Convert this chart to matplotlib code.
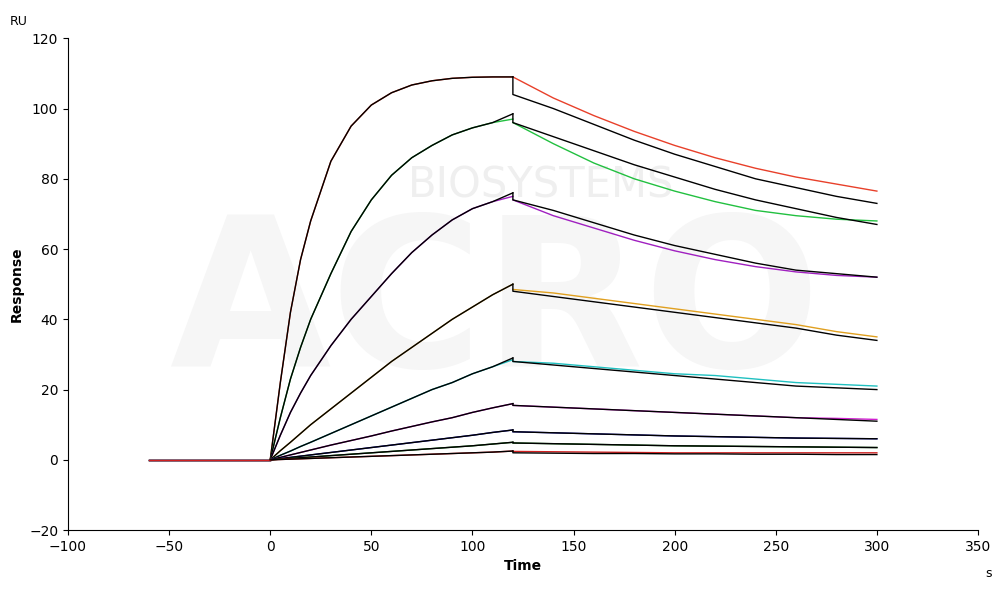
import matplotlib
matplotlib.use("Agg")
import matplotlib.pyplot as plt

t_base = [-60, 0]
t_assoc = [0, 5, 10, 15, 20, 30, 40, 50, 60, 70, 80, 90, 100, 110, 120]
t_diss = [120, 140, 160, 180, 200, 220, 240, 260, 280, 300]

colors = ["#e8402a", "#22c040", "#a020c0", "#e0a020", "#20c0c0", "#d020d0", "#1010b0", "#107010", "#d02020"]

assoc = [
    [0, 22, 42, 57, 68, 85, 95, 101, 104.5, 106.7, 107.9, 108.6, 108.9, 109, 109],
    [0, 12, 23, 32, 40, 53, 65, 74, 81, 86, 89.5, 92.5, 94.5, 96, 97],
    [0, 7, 13.5, 19, 24, 32.5, 40, 46.5, 53, 59, 64, 68.3, 71.5, 73.5, 75],
    [0, 2.6, 5, 7.5, 10, 14.5, 19, 23.5, 28, 32, 36, 40, 43.5, 47, 50],
    [0, 1.3, 2.5, 3.8, 5, 7.5, 10, 12.5, 15, 17.5, 20, 22, 24.5, 26.5, 28.5],
    [0, .7, 1.4, 2.1, 2.8, 4.2, 5.5, 6.8, 8.2, 9.5, 10.8, 12, 13.5, 14.8, 16],
    [0, .35, .7, 1.05, 1.4, 2.1, 2.8, 3.5, 4.2, 4.9, 5.6, 6.3, 7, 7.8, 8.5],
    [0, .2, .4, .6, .8, 1.2, 1.6, 2, 2.4, 2.8, 3.2, 3.6, 4, 4.5, 5],
    [0, .1, .2, .3, .4, .6, .8, 1, 1.2, 1.4, 1.6, 1.8, 2, 2.2, 2.5],
]
fit_assoc_end = [109, 98.5, 76, 50, 29, 16, 8.5, 5, 2.5]

diss = [
    [109, 103, 98, 93.5, 89.5, 86, 83, 80.5, 78.5, 76.5],
    [96, 90, 84.5, 80, 76.5, 73.5, 71, 69.5, 68.5, 68],
    [74, 69.5, 66, 62.5, 59.5, 57, 55, 53.5, 52.5, 52],
    [48.5, 47.5, 46, 44.5, 43, 41.5, 40, 38.5, 36.5, 35],
    [28, 27.5, 26.5, 25.5, 24.5, 24, 23, 22, 21.5, 21],
    [15.5, 15, 14.5, 14, 13.5, 13, 12.5, 12, 11.8, 11.5],
    [8, 7.7, 7.4, 7.1, 6.8, 6.6, 6.4, 6.2, 6.1, 6],
    [4.8, 4.6, 4.4, 4.2, 4, 3.9, 3.8, 3.7, 3.6, 3.5],
    [2.4, 2.3, 2.2, 2.1, 2, 2, 2, 2, 2, 2],
]
fit_diss = [
    [104, 100, 95.5, 91, 87, 83.5, 80, 77.5, 75, 73],
    [96, 92, 88, 84, 80.5, 77, 74, 71.5, 69, 67],
    [74, 71, 67.5, 64, 61, 58.5, 56, 54, 53, 52],
    [48, 46.5, 45, 43.5, 42, 40.5, 39, 37.5, 35.5, 34],
    [28, 27, 26, 25, 24, 23, 22, 21, 20.5, 20],
    [15.5, 15, 14.5, 14, 13.5, 13, 12.5, 12, 11.5, 11],
    [8, 7.7, 7.4, 7.1, 6.8, 6.6, 6.4, 6.2, 6.1, 6],
    [4.8, 4.6, 4.4, 4.2, 4, 3.9, 3.8, 3.7, 3.6, 3.5],
    [2, 1.9, 1.8, 1.8, 1.7, 1.7, 1.6, 1.6, 1.5, 1.5],
]

fig = plt.figure(figsize=(10, 5.89), dpi=100)
ax = fig.add_axes([0.068, 0.10, 0.91, 0.835])

ax.text(0.47, 0.45, "ACRO", transform=ax.transAxes, fontsize=150, color="#f6f6f6",
        ha="center", va="center", fontweight="bold", zorder=0)
ax.text(0.52, 0.70, "BIOSYSTEMS", transform=ax.transAxes, fontsize=30, color="#efefef",
        ha="center", va="center", zorder=0)

for i, c in enumerate(colors):
    ax.plot(t_base, [0, 0], color=c, lw=1)
    ax.plot(t_assoc, assoc[i], color=c, lw=1)
    ax.plot(t_diss, diss[i], color=c, lw=1)
    fa = assoc[i][:-1] + [fit_assoc_end[i]]
    ax.plot(t_assoc, fa, color="black", lw=1)
    ax.plot([120] + t_diss, [fit_assoc_end[i]] + fit_diss[i], color="black", lw=1)

ax.set_xlim(-100, 350)
ax.set_ylim(-20, 120)
ax.set_xticks(range(-100, 351, 50))
ax.set_yticks(range(-20, 121, 20))
for s in ["top", "right"]:
    ax.spines[s].set_visible(False)
ax.tick_params(labelsize=10, direction="out")
ax.set_xlabel("Time", fontsize=10, fontweight="bold")
ax.set_ylabel("Response", fontsize=10, fontweight="bold")
fig.text(0.01, 0.975, "RU", fontsize=9, va="top")
fig.text(0.985, 0.02, "s", fontsize=9)
fig.savefig("out.png", dpi=100)
